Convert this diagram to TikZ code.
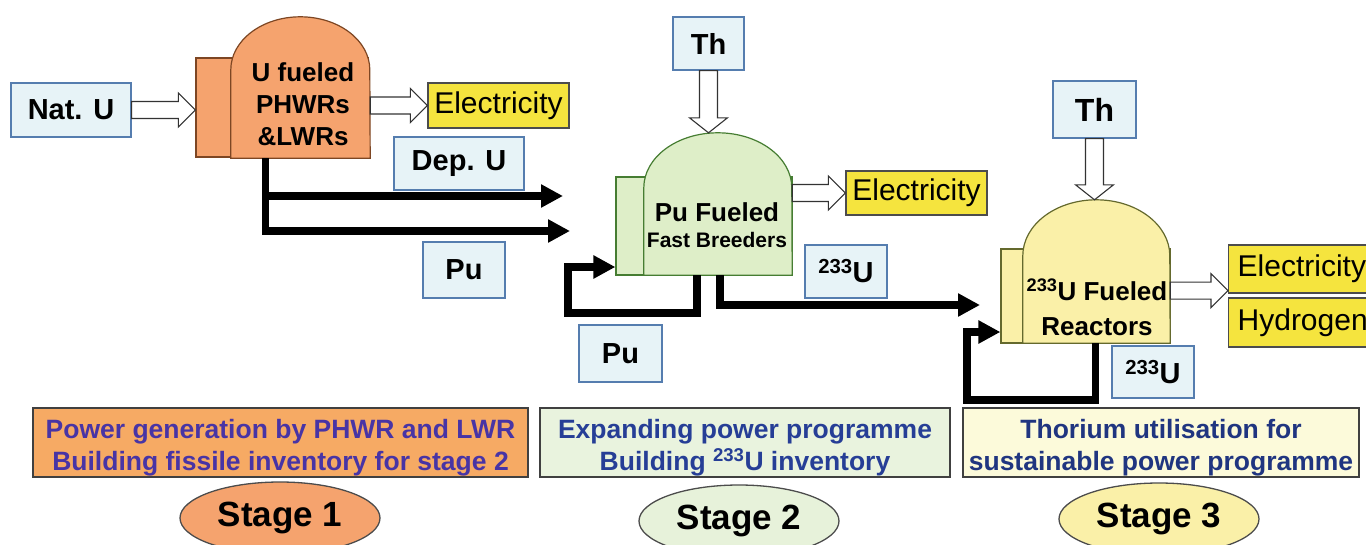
\documentclass[tikz,border=0pt]{standalone}
\usepackage{fontspec}
\setmainfont{Liberation Sans}
\usetikzlibrary{shapes.geometric,arrows.meta,calc}

\definecolor{stageone}{RGB}{245,163,110}
\definecolor{stageonebox}{RGB}{246,170,100}
\definecolor{stageoneline}{RGB}{125,70,35}
\definecolor{stagetwo}{RGB}{222,238,200}
\definecolor{stagetwobox}{RGB}{233,243,222}
\definecolor{stagetwoline}{RGB}{70,125,50}
\definecolor{stagethree}{RGB}{250,240,168}
\definecolor{stagethreebox}{RGB}{252,250,218}
\definecolor{stagethreeline}{RGB}{100,105,45}
\definecolor{elecyellow}{RGB}{245,228,62}
\definecolor{fuelblue}{RGB}{231,243,247}
\definecolor{fuelborder}{RGB}{85,125,175}
\definecolor{textindigo}{RGB}{72,52,165}
\definecolor{textblue}{RGB}{38,62,150}

\tikzset{
  fuelbox/.style={draw=fuelborder, fill=fuelblue, line width=1.3pt, inner sep=0pt, font=\fontsize{29}{33}\selectfont\bfseries},
  outbox/.style={draw=black!70, fill=elecyellow, line width=1.3pt, inner sep=0pt, font=\fontsize{30}{34}\selectfont},
  shell/.style={line width=1.2pt},
  hollow/.style={draw=black!80, fill=white, line width=1.1pt},
  flow/.style={line width=7.5pt, -{Triangle[length=22pt,width=22pt]}},
  stagebox/.style={draw=black!75, line width=1.3pt, inner sep=0pt},
  stagetext/.style={align=center, inner sep=0pt, font=\fontsize{26.5}{32}\selectfont\bfseries},
  stageoval/.style={ellipse, draw=black!70, line width=1.3pt, minimum width=200pt, minimum height=72pt, inner sep=0pt, font=\fontsize{35}{40}\selectfont\bfseries},
}

% dome of a reactor: node, x radius, y radius, style
\newcommand{\dome}[4]{%
  \draw[#4] (#1.south west) -- ($(#1.north west)+(0,#3)$) arc[start angle=180, end angle=0, x radius=#2pt, y radius=#3pt] -- (#1.south east) -- cycle;}
% open block arrows
\newcommand{\hollowright}[2]{%
  \draw[hollow] ($(#1)+(0,8.5)$) -- ($(#2)+(-17,8.5)$) -- ($(#2)+(-17,17)$) -- (#2) -- ($(#2)+(-17,-17)$) -- ($(#2)+(-17,-8.5)$) -- ($(#1)+(0,-8.5)$) -- cycle;}
\newcommand{\hollowdown}[2]{%
  \draw[hollow] ($(#1)+(-9,0)$) -- ($(#2)+(-9,-15)$) -- ($(#2)+(-19,-15)$) -- (#2) -- ($(#2)+(19,-15)$) -- ($(#2)+(9,-15)$) -- ($(#1)+(9,0)$) -- cycle;}

\begin{document}
\begin{tikzpicture}[x=1pt,y=-1pt]
\useasboundingbox (0,0) rectangle (1366,544);

% stage 1
\node[fuelbox, minimum width=120pt, minimum height=54pt] (natu) at (71,110) {Nat. U};
\node[draw=stageoneline, fill=stageone, shell, minimum width=172pt, minimum height=99pt, inner sep=0pt] (r1back) at (282,107.5) {};
\node[minimum width=139pt, minimum height=141pt, inner sep=0pt] (r1) at (300.5,87.5) {};
\dome{r1}{69.5}{53}{shell, draw=stageoneline, fill=stageone}
\node[align=center, font=\fontsize{26}{32}\selectfont\bfseries] (r1text) at (303,104) {U fueled\\PHWRs\\\&LWRs};
\node[outbox, minimum width=141pt, minimum height=45pt] (el1) at (498.5,105.5) {Electricity};
\node[fuelbox, minimum width=130pt, minimum height=53pt] (depu) at (459,163.5) {Dep. U};
\node[fuelbox, minimum width=82pt, minimum height=56pt] (pu1) at (464,270) {Pu};

\coordinate (a1e) at (natu.east -| r1back.west);
\hollowright{natu.east}{a1e}
\coordinate (a2s) at (el1.west -| r1.east);
\hollowright{a2s}{el1.west}

\coordinate (r1tap) at ([xshift=-35pt]r1.south);
\coordinate (depend) at (563,196);
\coordinate (puend) at (570,231);
\draw[flow] (r1tap) |- (puend);
\draw[flow] (r1tap |- depend) -- (depend);

% stage 2
\node[fuelbox, minimum width=71pt, minimum height=53pt] (th2) at (708.5,43.5) {Th};
\node[draw=stagetwoline, fill=stagetwo, shell, minimum width=176pt, minimum height=98pt, inner sep=0pt] (r2back) at (704,226) {};
\node[minimum width=148pt, minimum height=142pt, inner sep=0pt] (r2) at (718,204) {};
\dome{r2}{74}{55}{shell, draw=stagetwoline, fill=stagetwo}
\node[font=\fontsize{26}{30}\selectfont\bfseries] (r2title) at (717,212) {Pu Fueled};
\node[font=\fontsize{21}{25}\selectfont\bfseries] (r2sub) at (717,240) {Fast Breeders};
\node[outbox, minimum width=141pt, minimum height=44pt] (el2) at (916.5,193) {Electricity};
\node[fuelbox, minimum width=82pt, minimum height=53pt] (u2) at (846,271.5) {\textsuperscript{233}U};
\node[fuelbox, minimum width=83pt, minimum height=57pt] (pu2) at (620.5,353.5) {Pu};

\hollowdown{th2.south}{th2.south |- r2.north}
\coordinate (a3s) at (el2.west -| r2.east);
\hollowright{a3s}{el2.west}

\coordinate (r2tap) at ([xshift=-21pt]r2.south);
\coordinate (puloop) at (568,313);
\draw[flow] (r2tap) |- (puloop) |- ([yshift=-41pt]r2back.west);
\coordinate (u2end) at (980,305);
\draw[flow] ([xshift=2pt]r2.south) |- (u2end);

% stage 3
\node[fuelbox, minimum width=83pt, minimum height=57pt, font=\fontsize{32}{36}\selectfont\bfseries] (th3) at (1094.5,109.5) {Th};
\node[draw=stagethreeline, fill=stagethree, shell, minimum width=169pt, minimum height=94pt, inner sep=0pt] (r3back) at (1085.5,296) {};
\node[minimum width=147pt, minimum height=143pt, inner sep=0pt] (r3) at (1096.5,271.5) {};
\dome{r3}{73.5}{56}{shell, draw=stagethreeline, fill=stagethree}
\node[align=center, font=\fontsize{26}{35}\selectfont\bfseries] (r3text) at (1097,307.5) {\textsuperscript{233}U Fueled\\Reactors};
\node[outbox, anchor=west, minimum height=48pt, text width=150pt, inner xsep=9pt, align=left] (el3) at (1228,269) {Electricity};
\node[outbox, anchor=west, minimum height=49pt, text width=150pt, inner xsep=9pt, align=left] (h3) at (1228,322.5) {Hydrogen};
\node[fuelbox, minimum width=82pt, minimum height=52pt] (u3) at (1153,372) {\textsuperscript{233}U};

\hollowdown{th3.south}{th3.south |- r3.north}
\coordinate (a6e) at ([yshift=3pt]el3.south west);
\coordinate (a6s) at (a6e -| r3.east);
\hollowright{a6s}{a6e}

\coordinate (uloop) at (967,400);
\draw[flow] ([xshift=-1pt]r3.south) |- (uloop) |- ([yshift=-36pt]r3back.west);

% programme boxes and stage labels
\node[stagebox, fill=stageonebox, minimum width=495pt, minimum height=69pt] (goal1) at (280.5,442.5) {};
\node[stagetext, text=textindigo] (goal1text) at (280.5,448) {Power generation by PHWR and LWR\\Building fissile inventory for stage 2};
\node[stagebox, fill=stagetwobox, minimum width=410pt, minimum height=69pt] (goal2) at (745,442.5) {};
\node[stagetext, text=textblue] (goal2text) at (745,448) {Expanding power programme\\Building \textsuperscript{233}U inventory};
\node[stagebox, fill=stagethreebox, minimum width=396pt, minimum height=69pt] (goal3) at (1161,442.5) {};
\node[stagetext, text=textblue!85!black] (goal3text) at (1161,448) {Thorium utilisation for\\sustainable power programme};

\node[stageoval, fill=stageone] (st1) at (280,518) {Stage 1};
\node[stageoval, fill=stagetwobox!80!stagetwo] (st2) at (739,521) {Stage 2};
\node[stageoval, fill=stagethree] (st3) at (1159,519) {Stage 3};
\end{tikzpicture}
\end{document}
